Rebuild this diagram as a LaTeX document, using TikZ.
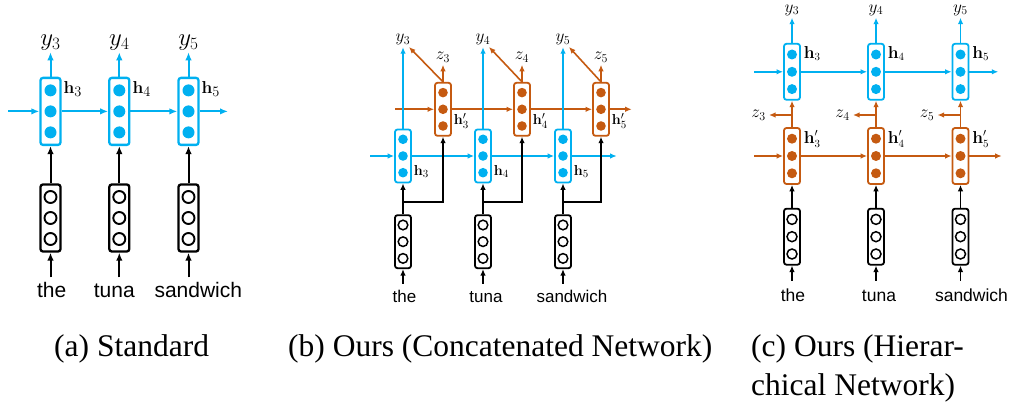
\documentclass[tikz,border=0pt]{standalone}
\usepackage[no-math]{fontspec}
\setmainfont{Liberation Serif}
\newfontfamily\wordfont{Liberation Sans}
\usepackage[x11names]{xcolor}
\usepackage{tikz}
\usetikzlibrary{arrows.meta}
\definecolor{nnblue}{RGB}{0,176,240}
\definecolor{nnorange}{RGB}{197,90,17}

\begin{document}
\begin{tikzpicture}[x=1pt, y=-1pt,
    cellbox/.style={draw=#1, line width=\boxlw, rounded corners=2.5pt, inner sep=0pt,
      minimum width=\cellw, minimum height=\cellh,
      path picture={\foreach \k in {-1,0,1}
        \fill[#1] ([yshift={\k*\cellgap}]path picture bounding box.center) circle (\dotr);}},
    embbox/.style={draw=black, line width=\boxlw, rounded corners=2.5pt, inner sep=0pt,
      minimum width=\cellw, minimum height=\cellh,
      path picture={\foreach \k in {-1,0,1}
        \draw[line width=\ringlw] ([yshift={\k*\cellgap}]path picture bounding box.center) circle (\dotr);}},
    captext/.style={font=\fontsize{31.5}{39}\selectfont, inner sep=0pt, anchor=base west}]
                \useasboundingbox (0,0) rectangle (1012,403);

                % Draw (a) standard network
                \begin{scope}[>={Latex[length=8pt,width=6.5pt]}, line width=2pt,
                    ylab/.style={font=\fontsize{24}{28}\selectfont, inner sep=1pt},
                    hlab/.style={font=\fontsize{19}{22}\selectfont, inner sep=1pt, anchor=west},
                    word/.style={font=\wordfont\fontsize{21}{24}\selectfont, anchor=base, text height=15.5pt, inner sep=4pt}]
                    \def\cellw{20pt}\def\cellh{67pt}\def\cellgap{21pt}\def\dotr{6pt}
                    \def\boxlw{2.3pt}\def\ringlw{1.9pt}
                    \node[cellbox=nnblue] (ha1) at (50.5,111.4) {};
                    \node[cellbox=nnblue] (ha2) at (119.3,111.4) {};
                    \node[cellbox=nnblue] (ha3) at (188.5,111.4) {};
                    \node[embbox] (xa1) at (50.5,218) {};
                    \node[embbox] (xa2) at (119.3,218) {};
                    \node[embbox] (xa3) at (188.5,218) {};
                    \node[word] (wa1) at (51.7,298) {the};
                    \node[word] (wa2) at (114.3,298) {tuna};
                    \node[word] (wa3) at (198.3,298) {sandwich};
                    \node[ylab] (ya1) at (50.5,42.5) {$y_3$};
                    \node[ylab] (ya2) at (119.3,42.5) {$y_4$};
                    \node[ylab] (ya3) at (188.5,42.5) {$y_5$};
                    \node[hlab] (la1) at (61.5,89) {$\mathbf{h}_3$};
                    \node[hlab] (la2) at (130.5,89) {$\mathbf{h}_4$};
                    \node[hlab] (la3) at (199.5,89) {$\mathbf{h}_5$};
                    \coordinate (ina) at (8,111.4);
                    \coordinate (outa) at (228,111.4);
                    \draw[->, nnblue] (ina) -- (ha1);
                    \draw[->, nnblue] (ha1) -- (ha2);
                    \draw[->, nnblue] (ha2) -- (ha3);
                    \draw[->, nnblue] (ha3) -- (outa);
                    \draw[->, nnblue] (ha1) -- (ya1);
                    \draw[->, nnblue] (ha2) -- (ya2);
                    \draw[->, nnblue] (ha3) -- (ya3);
                    \draw[->] (xa1) -- (ha1);
                    \draw[->] (xa2) -- (ha2);
                    \draw[->] (xa3) -- (ha3);
                    \draw[->] (xa1.south |- wa1.north) -- (xa1);
                    \draw[->] (xa2.south |- wa2.north) -- (xa2);
                    \draw[->] (xa3.south |- wa3.north) -- (xa3);
                \end{scope}

                % Draw (b) concatenated network
                \begin{scope}[>={Latex[length=6.5pt,width=5.5pt]}, line width=1.6pt,
                    ylab/.style={font=\fontsize{17}{20}\selectfont, inner sep=1.5pt},
                    hlab/.style={font=\fontsize{15}{18}\selectfont, inner sep=1pt, anchor=west},
                    word/.style={font=\wordfont\fontsize{17}{20}\selectfont, anchor=base, text height=12.5pt, inner sep=6pt}]
                    \def\cellw{16pt}\def\cellh{53pt}\def\cellgap{16.7pt}\def\dotr{4.8pt}
                    \def\boxlw{1.8pt}\def\ringlw{1.5pt}
                    \node[cellbox=nnblue] (hb1) at (403,156) {};
                    \node[cellbox=nnblue] (hb2) at (483,156) {};
                    \node[cellbox=nnblue] (hb3) at (563,156) {};
                    \node[cellbox=nnorange] (gb1) at (443,109.3) {};
                    \node[cellbox=nnorange] (gb2) at (522,109.3) {};
                    \node[cellbox=nnorange] (gb3) at (601,109.3) {};
                    \node[embbox] (xb1) at (403,241.7) {};
                    \node[embbox] (xb2) at (483,241.7) {};
                    \node[embbox] (xb3) at (563,241.7) {};
                    \node[word] (wb1) at (404.5,303) {the};
                    \node[word] (wb2) at (486,303) {tuna};
                    \node[word] (wb3) at (572,303) {sandwich};
                    \node[ylab] (yb1) at (403,39.5) {$y_3$};
                    \node[ylab] (yb2) at (483,39.5) {$y_4$};
                    \node[ylab] (yb3) at (563,39.5) {$y_5$};
                    \node[ylab] (zb1) at (443,57.5) {$z_3$};
                    \node[ylab] (zb2) at (522,57.5) {$z_4$};
                    \node[ylab] (zb3) at (601,57.5) {$z_5$};
                    \node[hlab] (lb1) at (412,171.7) {$\mathbf{h}_3$};
                    \node[hlab] (lb2) at (492,171.7) {$\mathbf{h}_4$};
                    \node[hlab] (lb3) at (572,171.7) {$\mathbf{h}_5$};
                    \node[hlab] (kb1) at (452,121) {$\mathbf{h}'_3$};
                    \node[hlab] (kb2) at (531,121) {$\mathbf{h}'_4$};
                    \node[hlab] (kb3) at (610,121) {$\mathbf{h}'_5$};
                    \coordinate (db1) at (409,47);
                    \coordinate (db2) at (489,47);
                    \coordinate (db3) at (569,47);
                    \coordinate (inb) at (370,156);
                    \coordinate (outb) at (616.7,156);
                    \coordinate (ingb) at (395,109.3);
                    \coordinate (outgb) at (631.7,109.3);
                    \draw[->, nnblue] (inb) -- (hb1);
                    \draw[->, nnblue] (hb1) -- (hb2);
                    \draw[->, nnblue] (hb2) -- (hb3);
                    \draw[->, nnblue] (hb3) -- (outb);
                    \draw[->, nnorange] (ingb) -- (gb1);
                    \draw[->, nnorange] (gb1) -- (gb2);
                    \draw[->, nnorange] (gb2) -- (gb3);
                    \draw[->, nnorange] (gb3) -- (outgb);
                    \draw[->, nnblue] (hb1) -- (yb1);
                    \draw[->, nnblue] (hb2) -- (yb2);
                    \draw[->, nnblue] (hb3) -- (yb3);
                    \draw[->, nnorange] (gb1) -- (zb1);
                    \draw[->, nnorange] (gb2) -- (zb2);
                    \draw[->, nnorange] (gb3) -- (zb3);
                    \draw[->, nnorange] (gb1.north) -- (db1);
                    \draw[->, nnorange] (gb2.north) -- (db2);
                    \draw[->, nnorange] (gb3.north) -- (db3);
                    \draw[->] (xb1) -- (hb1);
                    \draw[->] (xb2) -- (hb2);
                    \draw[->] (xb3) -- (hb3);
                    \draw[->] (xb1.north) ++(0,-12.3) -| (gb1.south);
                    \draw[->] (xb2.north) ++(0,-12.3) -| (gb2.south);
                    \draw[->] (xb3.north) ++(0,-12.3) -| (gb3.south);
                    \draw[->] (xb1.south |- wb1.north) -- (xb1);
                    \draw[->] (xb2.south |- wb2.north) -- (xb2);
                    \draw[->] (xb3.south |- wb3.north) -- (xb3);
                \end{scope}

                % Draw (c) hierarchical network
                \begin{scope}[>={Latex[length=6.5pt,width=5.5pt]}, line width=1.6pt,
                    ylab/.style={font=\fontsize{18}{21}\selectfont, inner sep=1.5pt},
                    hlab/.style={font=\fontsize{16}{19}\selectfont, inner sep=1pt, anchor=west},
                    word/.style={font=\wordfont\fontsize{17.5}{20}\selectfont, anchor=base, text height=13pt, inner sep=7pt}]
                    \def\cellw{16pt}\def\cellh{56pt}\def\cellgap{17.3pt}\def\dotr{5pt}
                    \def\boxlw{1.8pt}\def\ringlw{1.5pt}
                    \node[cellbox=nnblue] (hc1) at (792,71.8) {};
                    \node[cellbox=nnblue] (hc2) at (876,71.8) {};
                    \node[cellbox=nnblue] (hc3) at (960.5,71.8) {};
                    \node[cellbox=nnorange] (gc1) at (792,156) {};
                    \node[cellbox=nnorange] (gc2) at (876,156) {};
                    \node[cellbox=nnorange] (gc3) at (960.5,156) {};
                    \node[embbox] (xc1) at (792,236.7) {};
                    \node[embbox] (xc2) at (876,236.7) {};
                    \node[embbox] (xc3) at (960.5,236.7) {};
                    \node[word] (wc1) at (793,301.5) {the};
                    \node[word] (wc2) at (879,301.5) {tuna};
                    \node[word] (wc3) at (971.5,301.5) {sandwich};
                    \node[ylab] (yc1) at (792,10) {$y_3$};
                    \node[ylab] (yc2) at (876,10) {$y_4$};
                    \node[ylab] (yc3) at (960.5,10) {$y_5$};
                    \node[ylab, anchor=east, inner sep=2.5pt] (zc1) at (769,115) {$z_3$};
                    \node[ylab, anchor=east, inner sep=2.5pt] (zc2) at (853,115) {$z_4$};
                    \node[ylab, anchor=east, inner sep=2.5pt] (zc3) at (937.5,115) {$z_5$};
                    \node[hlab] (lc1) at (802,53.3) {$\mathbf{h}_3$};
                    \node[hlab] (lc2) at (886,53.3) {$\mathbf{h}_4$};
                    \node[hlab] (lc3) at (970.5,53.3) {$\mathbf{h}_5$};
                    \node[hlab] (kc1) at (802,139) {$\mathbf{h}'_3$};
                    \node[hlab] (kc2) at (886,139) {$\mathbf{h}'_4$};
                    \node[hlab] (kc3) at (970.5,139) {$\mathbf{h}'_5$};
                    \coordinate (inc) at (754,71.8);
                    \coordinate (outc) at (998.3,71.8);
                    \coordinate (ingc) at (754,156);
                    \coordinate (outgc) at (1001.7,156);
                    \draw[->, nnblue] (inc) -- (hc1);
                    \draw[->, nnblue] (hc1) -- (hc2);
                    \draw[->, nnblue] (hc2) -- (hc3);
                    \draw[->, nnblue] (hc3) -- (outc);
                    \draw[->, nnorange] (ingc) -- (gc1);
                    \draw[->, nnorange] (gc1) -- (gc2);
                    \draw[->, nnorange] (gc2) -- (gc3);
                    \draw[->, nnorange] (gc3) -- (outgc);
                    \draw[->, nnblue] (hc1) -- (yc1);
                    \draw[->, nnblue] (hc2) -- (yc2);
                    \draw[->, nnblue] (hc3) -- (yc3);
                    \draw[->, nnorange] (gc1) -- (hc1);
                    \draw[->, nnorange] (gc2) -- (hc2);
                    \draw[->, nnorange] (gc3) -- (hc3);
                    \draw[->, nnorange] (gc1.north |- zc1) -- (zc1);
                    \draw[->, nnorange] (gc2.north |- zc2) -- (zc2);
                    \draw[->, nnorange] (gc3.north |- zc3) -- (zc3);
                    \draw[->] (xc1) -- (gc1);
                    \draw[->] (xc2) -- (gc2);
                    \draw[->] (xc3) -- (gc3);
                    \draw[->] (xc1.south |- wc1.north) -- (xc1);
                    \draw[->] (xc2.south |- wc2.north) -- (xc2);
                    \draw[->] (xc3.south |- wc3.north) -- (xc3);
                \end{scope}

                % Captions
                \node[captext] (capa) at (54,356) {(a) Standard};
                \node[captext] (capb) at (288,356) {(b) Ours (Concatenated Network)};
                \node[captext] (capc) at (751,356) {(c) Ours (Hierar-};
                \node[captext] (capd) at (751,395) {chical Network)};
\end{tikzpicture}
\end{document}
